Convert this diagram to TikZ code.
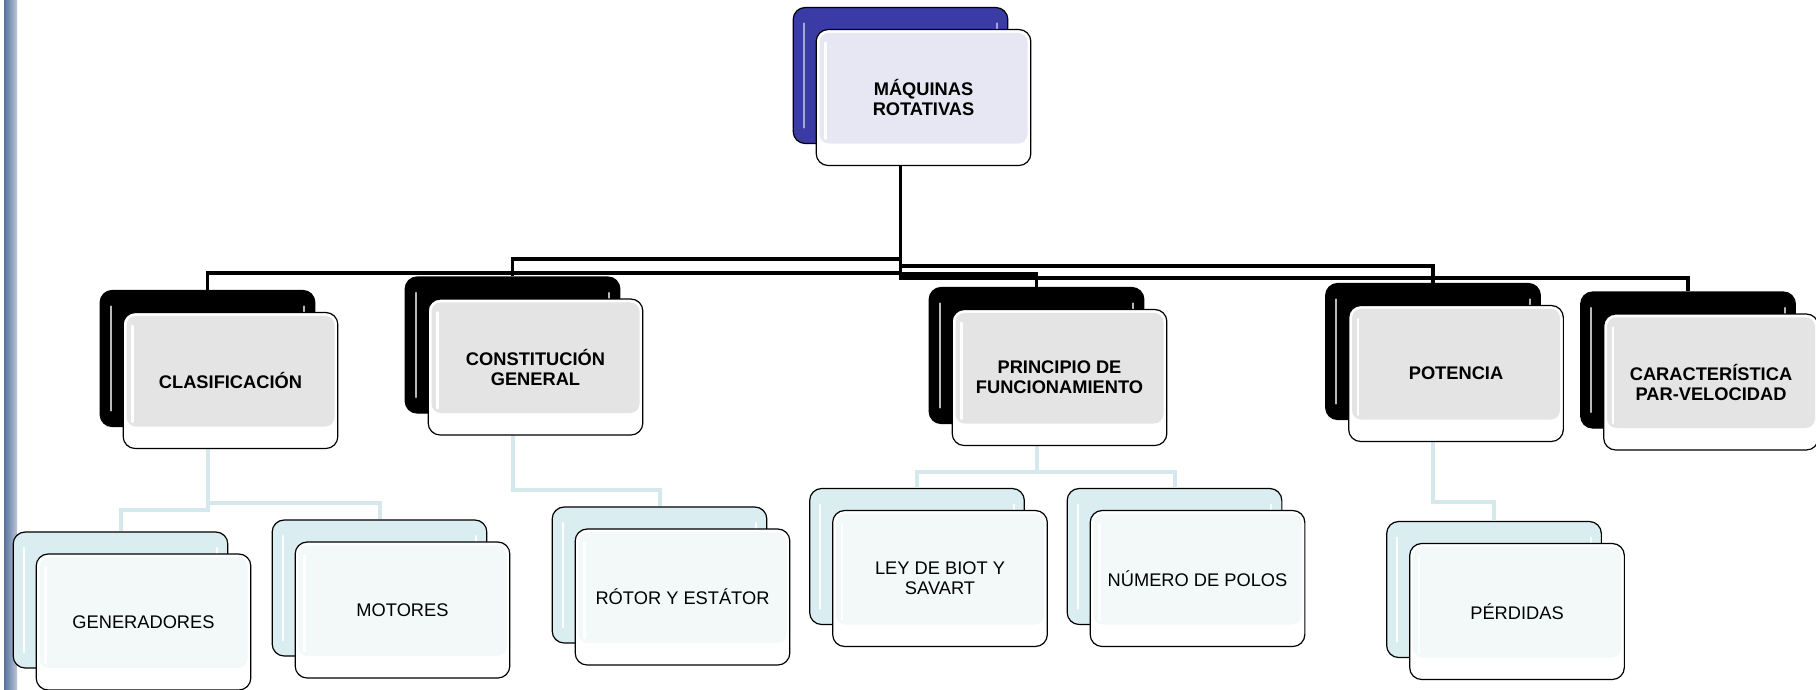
\documentclass[tikz,border=0pt]{standalone}
\usepackage{fontspec}
\setmainfont{Liberation Sans}
\usetikzlibrary{positioning}
\definecolor{azulmaq}{HTML}{3B3BA6}
\definecolor{lila}{HTML}{E7E7F4}
\definecolor{grisclaro}{HTML}{E4E4E4}
\definecolor{celeste}{HTML}{DAEDF0}
\definecolor{celestetenue}{HTML}{F3F8F9}
\definecolor{lineacel}{HTML}{D5E9EC}
\definecolor{barra}{HTML}{56719A}
\begin{document}
\begin{tikzpicture}[x=0.75pt,y=-0.75pt,
	font=\fontsize{13.7}{15}\selectfont,
	caja/.style={draw=black, line width=0.9pt, rounded corners=9pt, inner sep=0pt,
		minimum width=161pt, minimum height=102pt, fill=#1},
	tras/.style n args={2}{caja=#1, path picture={
			\draw[#2, line width=1.6pt, line cap=round]
			([shift={(8pt,-12pt)}]path picture bounding box.north west) --
			([shift={(8pt,12pt)}]path picture bounding box.south west)
			([shift={(-8pt,-12pt)}]path picture bounding box.north east) --
			([shift={(-8pt,12pt)}]path picture bounding box.south east);}},
	frente/.style={caja=white, align=center, path picture={
			\fill[#1, rounded corners=7pt]
			([shift={(2.5pt,-2.5pt)}]path picture bounding box.north west) rectangle
			([shift={(-2.5pt,16.5pt)}]path picture bounding box.south east);
			\draw[white, line width=1.6pt, line cap=round]
			([shift={(7pt,-10pt)}]path picture bounding box.north west) --
			([shift={(7pt,20pt)}]path picture bounding box.south west);}},
	fuerte/.style={font=\fontsize{13.7}{15}\selectfont\bfseries},
	rama/.style={line width=2.6pt},
	ramita/.style={lineacel, line width=3pt}]
	\useasboundingbox (0,0) rectangle (1816,689);
	\shade[left color=barra, right color=barra!40] (4,0) rectangle (17,689);
	% cajas de fondo
	\node[tras={azulmaq}{azulmaq!45}] (maq) at (900.5,75.5) {};
	\foreach \n/\x/\y in {clas/207.5/358.5, cons/512.5/345, prin/1036.5/355.5, pot/1433/351.5, car/1688/360}
	\node[tras={black}{gray!55}] (\n) at (\x,\y) {};
	\foreach \n/\x/\y in {gen/120.5/600, mot/379.5/588, rot/659.5/575, ley/917/556.5, num/1174.5/556.5, per/1494/589.5}
	\node[tras={celeste}{white}] (\n) at (\x,\y) {};
	% conectores
	\foreach \hijo/\yy in {cons/259, clas/273, pot/266, prin/274, car/278}
	\draw[rama] (maq.south) -- (maq.south |- 0,\yy) -| (\hijo.north);
	\foreach \padre/\hijo/\yy in {clas/gen/510, clas/mot/503, cons/rot/490, prin/ley/472, prin/num/472, pot/per/502}
	\draw[ramita] (\padre.south) -- (\padre.south |- 0,\yy) -| (\hijo.north);
	% cajas de frente
	\node[frente=lila, fuerte] (maqF) at ([shift={(23,22)}]maq) {MÁQUINAS\\ROTATIVAS};
	\node[frente=grisclaro, fuerte] (clasF) at ([shift={(23,22)}]clas) {CLASIFICACIÓN};
	\node[frente=grisclaro, fuerte] (consF) at ([shift={(23,22)}]cons) {CONSTITUCIÓN\\GENERAL};
	\node[frente=grisclaro, fuerte] (prinF) at ([shift={(23,22)}]prin) {PRINCIPIO DE\\FUNCIONAMIENTO};
	\node[frente=grisclaro, fuerte] (potF) at ([shift={(23,22)}]pot) {POTENCIA};
	\node[frente=grisclaro, fuerte] (carF) at ([shift={(23,22)}]car) {CARACTERÍSTICA\\PAR-VELOCIDAD};
	\node[frente=celestetenue] (genF) at ([shift={(23,22)}]gen) {GENERADORES};
	\node[frente=celestetenue] (motF) at ([shift={(23,22)}]mot) {MOTORES};
	\node[frente=celestetenue] (rotF) at ([shift={(23,22)}]rot) {RÓTOR Y ESTÁTOR};
	\node[frente=celestetenue] (leyF) at ([shift={(23,22)}]ley) {LEY DE BIOT Y\\SAVART};
	\node[frente=celestetenue] (numF) at ([shift={(23,22)}]num) {NÚMERO DE POLOS};
	\node[frente=celestetenue] (perF) at ([shift={(23,22)}]per) {PÉRDIDAS};
\end{tikzpicture}
\end{document}
